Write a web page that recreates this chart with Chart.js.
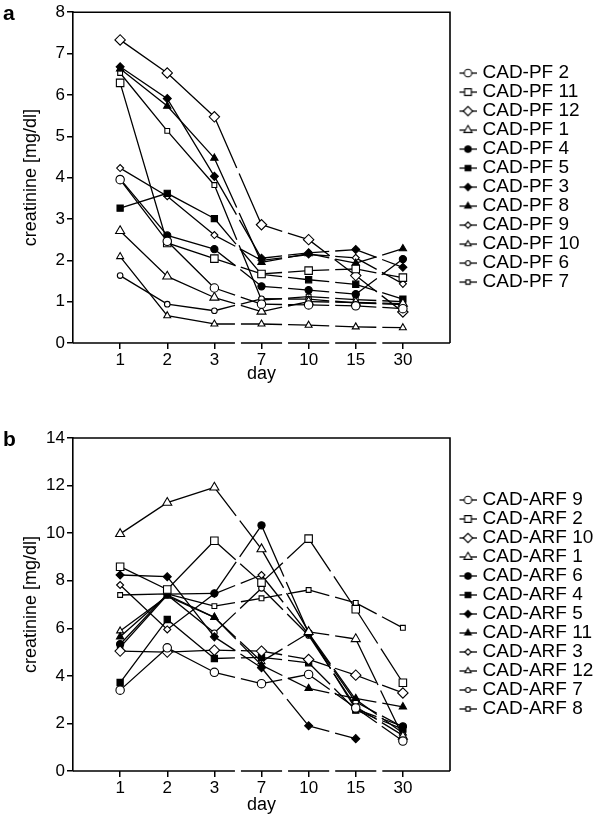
<!DOCTYPE html>
<html>
<head>
<meta charset="utf-8">
<script src="https://cdn.jsdelivr.net/npm/chart.js@4.4.1/dist/chart.umd.min.js"></script>
<style>
  body { margin: 0; background: #fff; width: 600px; height: 821px; position: relative; overflow: hidden;
         font-family: "Liberation Sans", Arial, sans-serif; }
  canvas { position: absolute; left: 0; }
  .tag { position: absolute; left: 3px; font-weight: bold; font-size: 21px; line-height: 1; color: #000; }
</style>
</head>
<body>
<canvas id="chartA" width="600" height="410" style="top:0"></canvas>
<canvas id="chartB" width="600" height="411" style="top:410px"></canvas>
<div class="tag" style="top:2px">a</div>
<div class="tag" style="top:428px">b</div>
<script>
const days = ['1', '2', '3', '7', '10', '15', '30'];

// panel a: creatinine after CAD, PF group
const pfNames = ['CAD-PF 2', 'CAD-PF 11', 'CAD-PF 12', 'CAD-PF 1', 'CAD-PF 4', 'CAD-PF 5',
                 'CAD-PF 3', 'CAD-PF 8', 'CAD-PF 9', 'CAD-PF 10', 'CAD-PF 6', 'CAD-PF 7'];
const pf2  = [3.95, 2.46, 1.33, 0.94, 0.92, 0.90, 0.83];
const pf11 = [6.29, 2.42, 2.04, 1.67, 1.75, 1.79, 1.58];
const pf12 = [7.33, 6.53, 5.47, 2.86, 2.50, 1.63, 0.75];
const pf1  = [2.71, 1.61, 1.10, 0.76, 1.00, 0.98, 0.95];
const pf4  = [3.97, 2.60, 2.27, 1.37, 1.28, 1.18, 2.03];
const pf5  = [3.26, 3.62, 3.01, 1.66, 1.53, 1.42, 1.06];
const pf3  = [6.68, 5.91, 4.03, 2.05, 2.18, 2.26, 1.83];
const pf8  = [6.63, 5.73, 4.47, 1.95, 2.16, 1.93, 2.28];
const pf9  = [4.23, 3.55, 2.61, 2.00, 2.14, 2.06, 1.43];
const pf10 = [2.09, 0.66, 0.46, 0.46, 0.43, 0.39, 0.37];
const pf6  = [1.63, 0.94, 0.78, 1.07, 1.06, 0.97, 0.93];
const pf7  = [6.53, 5.13, 3.82, 1.04, 1.12, 1.05, 1.00];
const pfValues = [pf2, pf11, pf12, pf1, pf4, pf5, pf3, pf8, pf9, pf10, pf6, pf7];

// panel b: ARF group
const arfNames = ['CAD-ARF 9', 'CAD-ARF 2', 'CAD-ARF 10', 'CAD-ARF 1', 'CAD-ARF 6', 'CAD-ARF 4',
                  'CAD-ARF 5', 'CAD-ARF 11', 'CAD-ARF 3', 'CAD-ARF 12', 'CAD-ARF 7', 'CAD-ARF 8'];
const arf9  = [3.40, 5.18, 4.15, 3.67, 4.06, 2.65, 1.26];
const arf2  = [8.59, 7.63, 9.68, 7.92, 9.77, 6.80, 3.71];
const arf10 = [5.04, 5.00, 5.08, 5.04, 4.69, 4.03, 3.28];
const arf1  = [9.97, 11.28, 11.92, 9.33, 5.85, 5.55, 1.45];
const arf6  = [5.33, 7.44, 7.47, 10.33, 5.80, 2.60, 1.88];
const arf4  = [3.72, 6.37, 4.73, 4.78, 4.55, 2.56, 1.76];
const arf5  = [8.24, 8.17, 5.64, 4.34, 1.90, 1.36, null];
const arf11 = [5.64, 7.40, 6.46, 4.45, 3.47, 3.05, 2.70];
const arf3  = [7.82, 5.95, 7.45, 8.24, 5.75, 2.90, 1.85];
const arf12 = [5.89, 7.35, 6.46, 4.60, 5.80, 3.00, 1.60];
const arf7  = [5.20, 7.40, 5.81, 7.68, 5.70, 2.70, 1.50];
const arf8  = [7.40, 7.45, 6.93, 7.26, 7.61, 7.07, 6.02];
const arfValues = [arf9, arf2, arf10, arf1, arf6, arf4, arf5, arf11, arf3, arf12, arf7, arf8];

// marker per legend slot: [pointStyle, radius, filled]
const markers = [
  ['circle', 4.2, false], ['rect', 5.3, false], ['rectRot', 5.2, false], ['triangle', 5.2, false],
  ['circle', 3.6, true], ['rect', 4.4, true], ['rectRot', 4.0, true], ['triangle', 4.2, true],
  ['rectRot', 3.5, false], ['triangle', 4.0, false], ['circle', 2.8, false], ['rect', 3.4, false]
];

const FONT = '"Liberation Sans", Arial, sans-serif';
const tickFont = {family: FONT, size: 17};
const titleFont = {family: FONT, size: 18};
const legendFont = {family: FONT, size: 19};

// lines after day 3 are broken in the middle (time axis is not to scale)
function breakDash(c) {
  if (c.p0DataIndex < 2) return undefined;
  const len = Math.hypot(c.p1.x - c.p0.x, c.p1.y - c.p0.y);
  const gap = 6;
  const a = Math.max((len - gap) / 2, 0);
  return [a, gap, a, 0];
}

function shapePath(g, style, r, x, y) {
  g.beginPath();
  if (style === 'circle') {
    g.arc(x, y, r, 0, Math.PI * 2);
  } else if (style === 'rect') {
    const s = Math.SQRT1_2 * r;
    g.rect(x - s, y - s, 2 * s, 2 * s);
  } else if (style === 'rectRot') {
    g.moveTo(x - r, y); g.lineTo(x, y - r); g.lineTo(x + r, y); g.lineTo(x, y + r); g.closePath();
  } else {
    for (let k = 0; k < 3; k++) {
      const t = k * 2 * Math.PI / 3;
      g[k ? 'lineTo' : 'moveTo'](x + Math.sin(t) * r, y - Math.cos(t) * r);
    }
    g.closePath();
  }
}

// legend symbol: short line with the marker in the middle
function legendIcon(m) {
  const c = document.createElement('canvas');
  c.width = 30; c.height = 14;
  const g = c.getContext('2d');
  g.strokeStyle = '#000';
  g.lineWidth = 1.3;
  g.beginPath(); g.moveTo(13, 7); g.lineTo(30, 7); g.stroke();
  shapePath(g, m[0], m[1] * 0.9, 21.5, 7);
  g.fillStyle = m[2] ? '#000' : '#fff';
  g.fill();
  g.lineWidth = 1.1;
  g.stroke();
  return c;
}
const icons = markers.map(legendIcon);

const framePlugin = {
  id: 'frame',
  afterInit(chart) {
    const lg = chart.legend;
    const fit = lg.fit.bind(lg);
    lg.fit = function () { fit(); this.width = 150; };
  },
  afterDraw(chart) {
    const {ctx, chartArea: a, scales: {x}} = chart;
    ctx.save();
    ctx.strokeStyle = '#000';
    ctx.lineWidth = 1.6;
    ctx.beginPath();
    ctx.moveTo(a.left, a.top); ctx.lineTo(a.right, a.top); ctx.lineTo(a.right, a.bottom);
    ctx.stroke();
    // bottom axis with breaks between the late days
    ctx.beginPath();
    let start = a.left;
    for (let i = 3; i < days.length; i++) {
      const m = x.getPixelForValue(i + 0.5);
      ctx.moveTo(start, a.bottom); ctx.lineTo(m - 3, a.bottom);
      start = m + 3;
    }
    ctx.moveTo(start, a.bottom); ctx.lineTo(a.right, a.bottom);
    ctx.stroke();
    ctx.restore();
  }
};

function makeDatasets(names, values) {
  return names.map((name, i) => {
    const [style, r, filled] = markers[i];
    return {
      label: name,
      data: values[i].map((v, j) => ({x: j + 1, y: v})),
      borderColor: '#000',
      borderWidth: 1.3,
      pointStyle: style,
      pointRadius: r,
      pointHoverRadius: r,
      pointBorderWidth: 1.1,
      pointBorderColor: '#000',
      pointBackgroundColor: filled ? '#000' : '#fff',
      segment: {borderDash: breakDash},
      spanGaps: false,
      tension: 0,
      fill: false
    };
  });
}

function makeChart(id, names, values, yMax, yStep, padTop, padBottom, xHeight) {
  return new Chart(document.getElementById(id), {
    type: 'line',
    data: {datasets: makeDatasets(names, values)},
    options: {
      responsive: false,
      animation: false,
      devicePixelRatio: 1,
      events: [],
      layout: {padding: {left: 20, right: 0, top: padTop, bottom: padBottom}},
      scales: {
        x: {
          type: 'linear', min: 0, max: 8,
          afterBuildTicks: s => { s.ticks = days.map((d, i) => ({value: i + 1})); },
          ticks: {autoSkip: false, maxRotation: 0, color: '#000', font: tickFont, padding: 1,
                  callback: v => days[v - 1]},
          grid: {drawOnChartArea: false, tickLength: 6, color: '#000', lineWidth: 1.5},
          border: {display: false},
          title: {display: true, text: 'day', color: '#000', font: titleFont, padding: 0},
          afterFit: s => { s.height = xHeight; }
        },
        y: {
          min: 0, max: yMax,
          ticks: {stepSize: yStep, color: '#000', font: tickFont, padding: 2},
          grid: {drawOnChartArea: false, tickLength: 6, color: '#000', lineWidth: 1.5},
          border: {color: '#000', width: 1.6},
          title: {display: true, text: 'creatinine [mg/dl]', color: '#000', font: titleFont, padding: 0},
          afterFit: s => { s.width = 53; }
        }
      },
      plugins: {
        tooltip: {enabled: false},
        legend: {
          position: 'right', align: 'center', fullSize: false,
          labels: {
            usePointStyle: true, pointStyleWidth: 23, padding: 0, color: '#000', font: legendFont,
            generateLabels: chart => chart.data.datasets.map((ds, i) => ({
              text: ds.label, pointStyle: icons[i], datasetIndex: i,
              fontColor: '#000', lineWidth: 0, hidden: false
            }))
          }
        }
      }
    },
    plugins: [framePlugin]
  });
}

makeChart('chartA', pfNames, pfValues, 8, 1, 10, 25, 42);
makeChart('chartB', arfNames, arfValues, 14, 2, 28, 5, 45);
</script>
</body>
</html>
